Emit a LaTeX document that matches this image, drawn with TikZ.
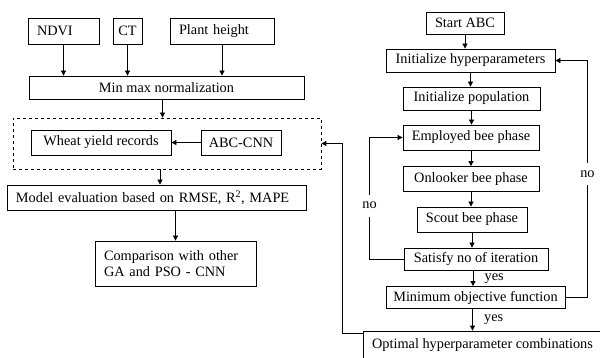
\documentclass[tikz,border=0pt]{standalone}
\usepackage{fontspec}
\setmainfont{Liberation Serif}
\usepackage{tikz}
\usetikzlibrary{arrows.meta,positioning}

\begin{document}
\begin{tikzpicture}[x=1pt, y=-1pt,
    font=\fontsize{14.3}{16}\selectfont,
    box/.style={draw, rectangle, line width=0.8pt, inner sep=2pt},
    lbox/.style={box, align=left, inner xsep=9pt},
    arr/.style={-{Triangle[length=5pt,width=5pt]}, line width=0.8pt},
    lbl/.style={fill=white, inner sep=1pt, minimum height=22pt}]
    \clip (0,0) rectangle (600,358);

    % inputs and preprocessing
    \node[lbox, text width=53pt, minimum height=26pt] (ndvi) at (63.5,31) {NDVI};
    \node[box, minimum width=29pt, minimum height=26pt] (ct) at (127.5,31) {CT};
    \node[lbox, text width=86pt, minimum height=26pt] (plant) at (222,31) {Plant height};
    \node[box, minimum width=275pt, minimum height=23pt] (minmax) at (166.5,87.5) {Min max normalization};

    \node[box, dashed, minimum width=308pt, minimum height=51pt] (data) at (167,143.5) {};
    \node[box, minimum width=140pt, minimum height=25pt] (wheat) at (101,142.5) {Wheat yield records};
    \node[box, minimum width=80pt, minimum height=25pt] (abc) at (241,142.5) {ABC-CNN};

    \node[lbox, text width=281pt, minimum height=25pt] (model) at (156.5,197.5) {Model evaluation based on RMSE, R\textsuperscript{2}, MAPE};
    \node[lbox, text width=143pt, minimum height=45pt] (comp) at (175.5,263.5) {Comparison with other\\GA and PSO - CNN};

    % ABC optimisation
    \node[box, minimum width=78pt, minimum height=22pt] (start) at (465,23) {Start ABC};
    \node[box, minimum width=169pt, minimum height=23pt] (hyp) at (470.5,60.5) {Initialize hyperparameters};
    \node[box, minimum width=137pt, minimum height=23pt] (pop) at (471.5,98.5) {Initialize population};
    \node[box, minimum width=136pt, minimum height=25pt] (emp) at (471,137.5) {Employed bee phase};
    \node[box, minimum width=136pt, minimum height=25pt] (onl) at (471,179) {Onlooker bee phase};
    \node[box, minimum width=110pt, minimum height=25pt] (sct) at (472,219.5) {Scout bee phase};
    \node[box, minimum width=144pt, minimum height=22pt] (sat) at (476,259) {Satisfy no of iteration};
    \node[box, minimum width=179pt, minimum height=22pt] (minobj) at (475.5,297.5) {Minimum objective function};
    \node[box, minimum width=239pt, minimum height=29pt] (opt) at (482.5,345.5) {Optimal hyperparameter combinations};

    \draw[arr] (ndvi) -- (ndvi |- minmax.north);
    \draw[arr] (ct) -- (ct |- minmax.north);
    \draw[arr] (plant) -- (plant |- minmax.north);
    \draw[arr] ([xshift=-4pt]minmax.south) -- ([xshift=-4pt]minmax.south |- data.north);
    \draw[arr] (abc) -- (wheat);
    \draw[arr] ([xshift=-7pt]data.south) -- ([xshift=-7pt]data.south |- model.north);
    \draw[arr] (comp.north |- model.south) -- (comp.north);

    \draw[arr] (start) -- (start |- hyp.north);
    \draw[arr] (hyp.south) -- (hyp.south |- pop.north);
    \draw[arr] (pop.south) -- (pop.south |- emp.north);
    \draw[arr] (emp.south) -- (emp.south |- onl.north);
    \draw[arr] (onl.south) -- (onl.south |- sct.north);
    \draw[arr] (sct.south) -- (sct.south |- sat.north);
    \draw[arr] ([xshift=-3pt]sat.south) -- ([xshift=-3pt]sat.south |- minobj.north) node[midway, right=8pt] {yes};
    \draw[arr] ([xshift=-3pt]minobj.south) -- ([xshift=-3pt]minobj.south |- opt.north) node[midway, right=8pt] {yes};

    \draw[arr] (sat.west) -- ++(-34,0) |- node[lbl, pos=0.22] {no} (emp.west);
    \draw[arr] (minobj.east) -- ++(22,0) |- node[lbl, pos=0.26] {no} (hyp.east);
    \draw[arr] ([yshift=-3pt]opt.north west) -- ++(-20,0) |- (data.east);
\end{tikzpicture}
\end{document}
